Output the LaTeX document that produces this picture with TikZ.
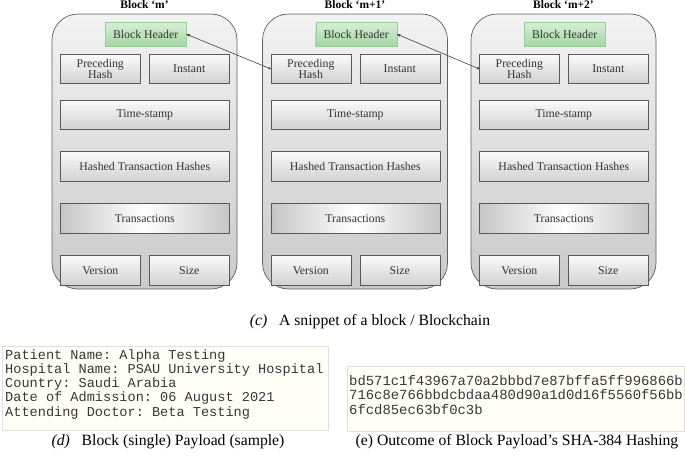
\documentclass[tikz,border=0pt]{standalone}
\usepackage{fontspec}
\setmainfont{Liberation Serif}
\setmonofont{Liberation Mono}
\usetikzlibrary{arrows.meta}
\tikzset{
  blockbg/.style={draw=gray!75!black, line width=0.7pt, rounded corners=26pt, top color=gray!10, bottom color=gray!42},
  cell/.style={draw=gray!70!black, line width=0.6pt, top color=gray!4, bottom color=gray!36, inner sep=1pt, align=center, font=\fontsize{11.8}{12.5}\selectfont, text=black!80},
  tcell/.style={cell, left color=gray!45, right color=gray!45, middle color=white},
  hdr/.style={draw=green!35!gray!60, line width=0.3pt, top color=green!60!black!16, bottom color=green!55!black!36, font=\fontsize{11.8}{12.5}\selectfont, text=black!80},
  btitle/.style={font=\fontsize{11.5}{12}\selectfont\bfseries},
  conn/.style={draw=black!75, line width=0.6pt, {Stealth[length=4pt,width=3pt]}-{Circle[length=2.2pt]}},
  caption/.style={font=\fontsize{15.7}{17}\selectfont},
  codebox/.style={draw=black!12!yellow!8!gray!30, line width=0.6pt, fill=yellow!3!white},
  code/.style={font=\ttfamily\fontsize{13.6}{14.3}\selectfont, align=left, inner sep=0pt, anchor=north west, text=black!78}
}
\begin{document}
\begin{tikzpicture}[x=1pt,y=-1pt]
\useasboundingbox (0,0) rectangle (685,458);
\foreach \i/\L/\t in {0/52/{Block ‘m’},1/262.5/{Block ‘m+1’},2/471/{Block ‘m+2’}}{
  \path[blockbg] (\L,14) rectangle ({\L+185},289);
  \node[btitle] (t\i) at ({\L+92.5},5) {\t};
  \node[hdr, minimum width=81pt, minimum height=24pt, anchor=north west] (h\i) at ({\L+53},22) {Block Header};
  \node[cell, minimum width=80pt, minimum height=29pt, anchor=north west] (p\i) at ({\L+8},54) {Preceding\\[-2pt]Hash};
  \node[cell, minimum width=80pt, minimum height=29pt, anchor=north west] (n\i) at ({\L+97},54) {Instant};
  \node[cell, minimum width=169pt, minimum height=29pt, anchor=north west] (s\i) at ({\L+8},100) {Time-stamp};
  \node[cell, minimum width=169pt, minimum height=30pt, anchor=north west] (x\i) at ({\L+8},151) {Hashed Transaction Hashes};
  \node[tcell, minimum width=169pt, minimum height=30pt, anchor=north west] (r\i) at ({\L+8},203) {Transactions};
  \node[cell, minimum width=80pt, minimum height=30pt, anchor=north west] (v\i) at ({\L+8},255) {Version};
  \node[cell, minimum width=80pt, minimum height=30pt, anchor=north west] (z\i) at ({\L+97},255) {Size};
}
\draw[conn] (h0.east) -- (p1.west);
\draw[conn] (h1.east) -- (p2.west);
\node[caption] (capc) at (370,322) {\textit{(c)}\hspace{0.5em} A snippet of a block / Blockchain};
% payload box
\path[codebox] (2,346) rectangle (328,430);
\node[code] (pay) at (5,349) {Patient Name: Alpha Testing\\Hospital Name: PSAU University Hospital\\Country: Saudi Arabia\\Date of Admission: 06 August 2021\\Attending Doctor: Beta Testing};
\node[caption] (capd) at (168,442) {\textit{(d)}\hspace{0.5em} Block (single) Payload (sample)};
% hash box
\path[codebox] (347,366) rectangle (684,431);
\begin{scope}
\clip (347,366) rectangle (682.5,431);
\node[code, font=\ttfamily\fontsize{13.9}{14.6}\selectfont] (hash) at (349,375) {bd571c1f43967a70a2bbbd7e87bffa5ff996866b\\716c8e766bbdcbdaa480d90a1d0d16f5560f56bb\\6fcd85ec63bf0c3b};
\end{scope}
\node[caption] (cape) at (517,442) {(e) Outcome of Block Payload’s SHA-384 Hashing};
\end{tikzpicture}
\end{document}
